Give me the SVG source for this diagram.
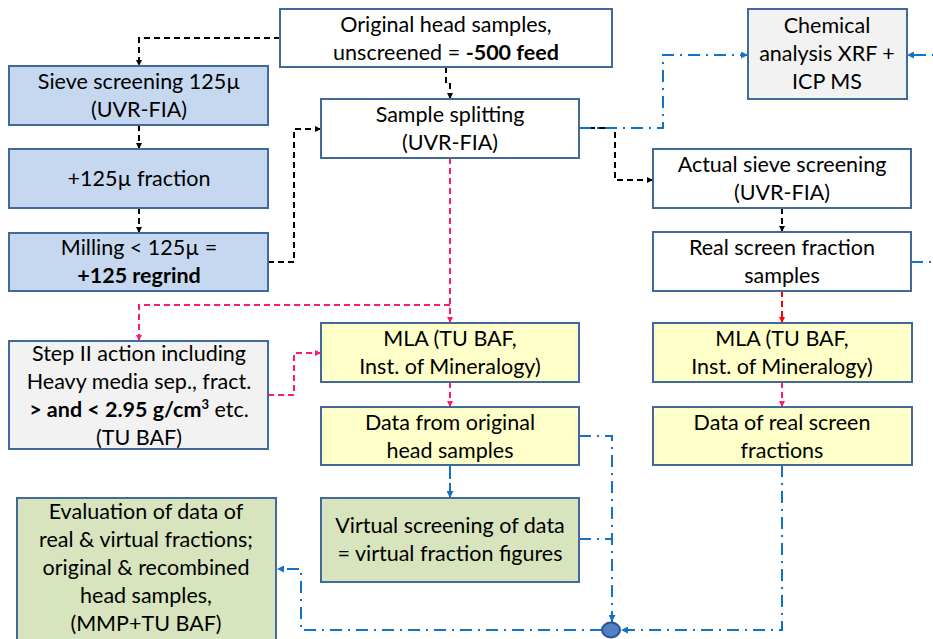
<svg xmlns="http://www.w3.org/2000/svg" width="933" height="639" viewBox="0 0 933 639">
<style>
.box{stroke:#41699a;stroke-width:2}
.w{fill:#ffffff}.b{fill:#c6d8f0}.g{fill:#f2f2f2}.y{fill:#ffffc9}.gr{fill:#d7e4bd}
text{font-family:Lato,"Liberation Sans",sans-serif;font-size:21.5px;fill:#000;text-anchor:middle}
.bold{font-weight:bold}
.blk{fill:none;stroke:#000;stroke-width:2;stroke-dasharray:6,4}
.pnk{fill:none;stroke:#ff1a6e;stroke-width:2;stroke-dasharray:6,4}
.red{fill:none;stroke:#ff0000;stroke-width:2;stroke-dasharray:6,4}
.blu{fill:none;stroke:#1273c6;stroke-width:2;stroke-dasharray:12,6,2,6}
.blus{fill:none;stroke:#1273c6;stroke-width:2;stroke-dasharray:14,4}
</style>
<defs>
<marker id="ak" viewBox="0 0 10 10" refX="10" refY="5" markerWidth="6" markerHeight="6" markerUnits="userSpaceOnUse" orient="auto"><path d="M0,0L10,5L0,10z" fill="#000"/></marker>
<marker id="ap" viewBox="0 0 10 10" refX="10" refY="5" markerWidth="6" markerHeight="6" markerUnits="userSpaceOnUse" orient="auto"><path d="M0,0L10,5L0,10z" fill="#ff1a6e"/></marker>
<marker id="ar" viewBox="0 0 10 10" refX="10" refY="5" markerWidth="6" markerHeight="6" markerUnits="userSpaceOnUse" orient="auto"><path d="M0,0L10,5L0,10z" fill="#ff0000"/></marker>
<marker id="ab" viewBox="0 0 10 10" refX="10" refY="5" markerWidth="7" markerHeight="7" markerUnits="userSpaceOnUse" orient="auto"><path d="M0,0L10,5L0,10z" fill="#1273c6"/></marker>
</defs>
<g id="connectors">
<path class="blk" d="M280,38H139V66" marker-end="url(#ak)"/>
<path class="blk" d="M446,67V84H450V99" marker-end="url(#ak)"/>
<path class="blk" d="M139,125V149" marker-end="url(#ak)"/>
<path class="blk" d="M139,208V233" marker-end="url(#ak)"/>
<path class="blk" d="M268,262H294V129H321" marker-end="url(#ak)"/>
<path class="blk" d="M579,128H615V180H653" marker-end="url(#ak)"/>
<path class="blu" d="M579,128H663V55H748" marker-end="url(#ab)"/>
<path class="blk" d="M782,208V232" marker-end="url(#ak)"/>
<path class="blu" d="M911,262H945V55H907" marker-end="url(#ab)"/>
<path class="red" d="M782,291V323" marker-end="url(#ar)"/>
<path class="pnk" d="M782,382V407" marker-end="url(#ap)"/>
<path class="pnk" d="M450,158V323" marker-end="url(#ap)"/>
<path class="pnk" d="M450,305H139V341" marker-end="url(#ap)"/>
<path class="pnk" d="M268,395H294V353H321" marker-end="url(#ap)"/>
<path class="pnk" d="M450,382V407" marker-end="url(#ap)"/>
<path class="blus" d="M450,465V498" marker-end="url(#ab)"/>
<path class="blu" d="M579,436H612V622" marker-end="url(#ab)"/>
<path class="blu" d="M579,539H612"/>
<path class="blu" d="M782,465V630H621" marker-end="url(#ab)"/>
<path class="blu" d="M602,630H301V569H277" marker-end="url(#ab)"/>
</g>
<g id="original"><rect class="box w" x="280" y="9" width="332" height="58"/><text x="446" y="32">Original head samples,</text><text x="446" y="60">unscreened = <tspan class="bold">-500 feed</tspan></text></g>
<g id="sieve"><rect class="box b" x="9" y="66" width="259" height="59"/><text x="139" y="89">Sieve screening 125µ</text><text x="139" y="117">(UVR-FIA)</text></g>
<g id="fraction"><rect class="box b" x="9" y="149" width="259" height="59"/><text x="139" y="186">+125µ fraction</text></g>
<g id="milling"><rect class="box b" x="9" y="233" width="259" height="58"/><text x="139" y="255">Milling &lt; 125µ =</text><text x="139" y="283" class="bold">+125 regrind</text></g>
<g id="splitting"><rect class="box w" x="321" y="99" width="258" height="59"/><text x="450" y="122">Sample splitting</text><text x="450" y="150">(UVR-FIA)</text></g>
<g id="chemical"><rect class="box g" x="748" y="9" width="159" height="90"/><text x="827" y="33">Chemical</text><text x="827" y="61">analysis XRF +</text><text x="827" y="89">ICP MS</text></g>
<g id="actual"><rect class="box w" x="653" y="149" width="258" height="59"/><text x="782" y="172">Actual sieve screening</text><text x="782" y="200">(UVR-FIA)</text></g>
<g id="real"><rect class="box w" x="653" y="232" width="258" height="59"/><text x="782" y="255">Real screen fraction</text><text x="782" y="283">samples</text></g>
<g id="stepII"><rect class="box g" x="9" y="341" width="259" height="108"/><text x="139" y="361">Step II action including</text><text x="139" y="389">Heavy media sep., fract.</text><text x="139" y="417"><tspan class="bold">&gt; and &lt; 2.95 g/cm</tspan><tspan class="bold" font-size="13" dy="-8">3</tspan><tspan dy="8"> etc.</tspan></text><text x="139" y="445">(TU BAF)</text></g>
<g id="mla1"><rect class="box y" x="321" y="323" width="258" height="59"/><text x="450" y="346">MLA (TU BAF,</text><text x="450" y="374">Inst. of Mineralogy)</text></g>
<g id="mla2"><rect class="box y" x="653" y="323" width="259" height="59"/><text x="782" y="346">MLA (TU BAF,</text><text x="782" y="374">Inst. of Mineralogy)</text></g>
<g id="dataorig"><rect class="box y" x="321" y="407" width="258" height="58"/><text x="450" y="430">Data from original</text><text x="450" y="458">head samples</text></g>
<g id="datareal"><rect class="box y" x="653" y="407" width="259" height="58"/><text x="782" y="430">Data of real screen</text><text x="782" y="458">fractions</text></g>
<g id="virtual"><rect class="box gr" x="321" y="498" width="258" height="84"/><text x="450" y="533">Virtual screening of data</text><text x="450" y="561">= virtual fraction figures</text></g>
<g id="evaluation"><rect class="box gr" x="17" y="498" width="259" height="150"/><text x="146" y="519">Evaluation of data of</text><text x="146" y="547">real &amp; virtual fractions;</text><text x="146" y="575">original &amp; recombined</text><text x="146" y="603">head samples,</text><text x="146" y="631">(MMP+TU BAF)</text></g>
<g id="junction"><ellipse cx="611" cy="630" rx="9" ry="7.5" fill="#4f7fc4" stroke="#2f5290" stroke-width="2"/></g>
</svg>
